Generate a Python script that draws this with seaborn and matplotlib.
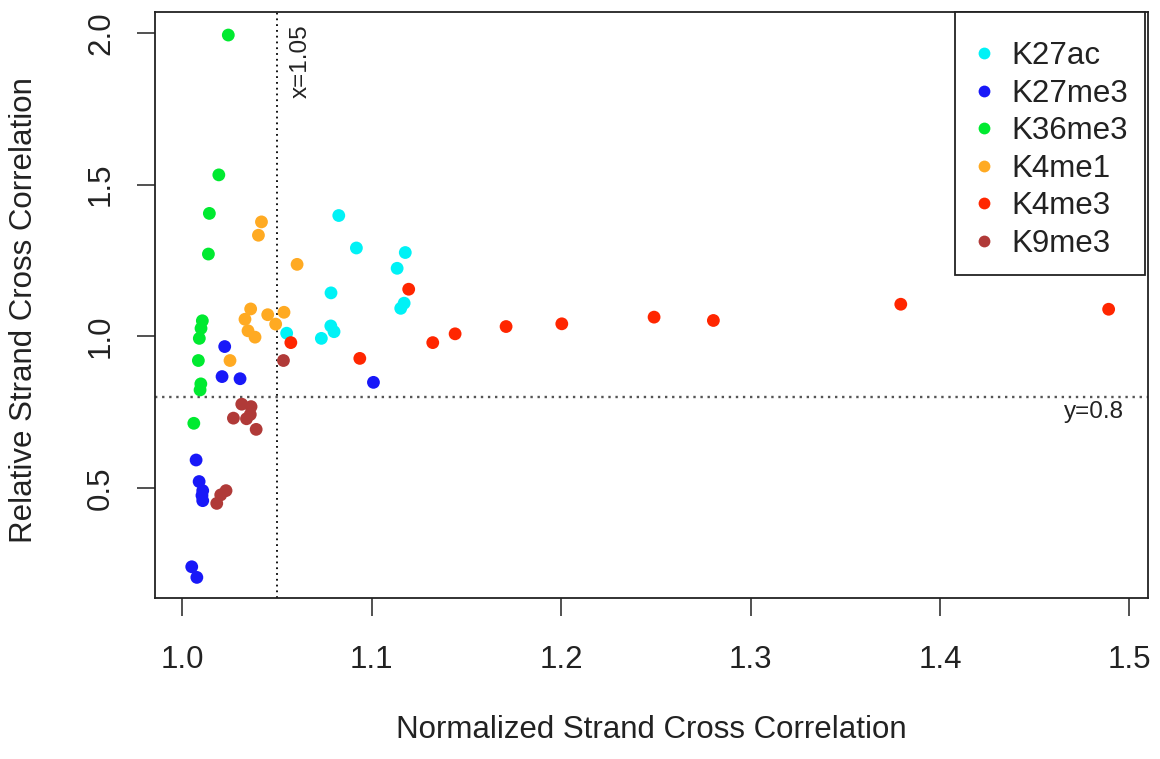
import matplotlib
matplotlib.use("Agg")
import matplotlib.pyplot as plt
import seaborn as sns
import pandas as pd

# Strand cross-correlation QC metrics per histone mark
marks = ["K27ac", "K27me3", "K36me3", "K4me1", "K4me3", "K9me3"]
palette = ["#00F2F6", "#1818F8", "#00EA30", "#FFAA22", "#FF2600", "#B03A38"]

k27ac_nsc = [1.0827, 1.0920, 1.1178, 1.1135, 1.0786, 1.1172, 1.1154, 1.0785, 1.0802, 1.0735, 1.0552]
k27ac_rsc = [1.398, 1.291, 1.276, 1.224, 1.143, 1.109, 1.092, 1.034, 1.015, 0.993, 1.010]

k27me3_nsc = [1.0225, 1.0211, 1.0306, 1.1010, 1.0074, 1.0090, 1.0109, 1.0105, 1.0109, 1.0051, 1.0078]
k27me3_rsc = [0.966, 0.867, 0.860, 0.848, 0.592, 0.521, 0.491, 0.475, 0.458, 0.240, 0.205]

k36me3_nsc = [1.0244, 1.0194, 1.0144, 1.0139, 1.0107, 1.0100, 1.0091, 1.0086, 1.0099, 1.0095, 1.0062]
k36me3_rsc = [1.993, 1.532, 1.405, 1.271, 1.051, 1.026, 0.993, 0.920, 0.843, 0.823, 0.713]

k4me1_nsc = [1.0419, 1.0403, 1.0607, 1.0362, 1.0332, 1.0452, 1.0538, 1.0494, 1.0348, 1.0385, 1.0253]
k4me1_rsc = [1.377, 1.333, 1.237, 1.090, 1.056, 1.071, 1.079, 1.040, 1.018, 0.997, 0.920]

k4me3_nsc = [1.1196, 1.0574, 1.0938, 1.1323, 1.1441, 1.1710, 1.2004, 1.2491, 1.2804, 1.3793, 1.4890]
k4me3_rsc = [1.155, 0.979, 0.927, 0.979, 1.008, 1.032, 1.041, 1.063, 1.052, 1.1055, 1.089]

k9me3_nsc = [1.0535, 1.0315, 1.0364, 1.0340, 1.0360, 1.0271, 1.0391, 1.0232, 1.0204, 1.0183]
k9me3_rsc = [0.920, 0.776, 0.768, 0.728, 0.742, 0.730, 0.693, 0.491, 0.477, 0.449]

nsc_cutoff = 1.05
rsc_cutoff = 0.8

xticks = [1.0, 1.1, 1.2, 1.3, 1.4, 1.5]
yticks = [0.5, 1.0, 1.5, 2.0]

frames = []
for mark, xs, ys in zip(
    marks,
    [k27ac_nsc, k27me3_nsc, k36me3_nsc, k4me1_nsc, k4me3_nsc, k9me3_nsc],
    [k27ac_rsc, k27me3_rsc, k36me3_rsc, k4me1_rsc, k4me3_rsc, k9me3_rsc],
):
    frames.append(pd.DataFrame({"NSC": xs, "RSC": ys, "mark": mark}))
df = pd.concat(frames, ignore_index=True)

sns.set_theme(style="white")
plt.rcParams["font.family"] = ["Liberation Sans", "DejaVu Sans"]

FS = 22.5
INK = "#222222"

fig = plt.figure(figsize=(11.6, 7.59), dpi=100)
ax = fig.add_axes([0.1336, 0.2121, 0.8561, 0.7721])

sns.scatterplot(
    data=df, x="NSC", y="RSC", hue="mark", hue_order=marks,
    palette=palette, s=85, linewidth=0, ax=ax, legend=True, zorder=3,
)

ax.axvline(nsc_cutoff, color="black", linestyle=(0, (1, 2.2)), linewidth=1.3, zorder=2)
ax.axhline(rsc_cutoff, color="#555555", linestyle=(0, (1, 2.0)), linewidth=1.7, zorder=2)
ax.text(nsc_cutoff + 0.0066, 2.029, f"x={nsc_cutoff}", rotation=90, ha="left", va="top",
        fontsize=17.5, color=INK)
ax.text(1.497, rsc_cutoff - 0.015, f"y={rsc_cutoff}", ha="right", va="top",
        fontsize=17.5, color=INK)

ax.set_xlim(0.9857, 1.5098)
ax.set_ylim(0.137, 2.069)
ax.set_xticks(xticks)
ax.set_xticklabels([f"{t:.1f}" for t in xticks])
ax.set_yticks(yticks)
ax.set_yticklabels([f"{t:.1f}" for t in yticks], rotation=90, va="center")
ax.tick_params(axis="both", direction="out", length=13, width=1.1, color=INK,
               labelsize=FS, labelcolor=INK, bottom=True, left=True)
ax.tick_params(axis="x", pad=21)
ax.tick_params(axis="y", pad=15)

for sp in ax.spines.values():
    sp.set_color(INK)
    sp.set_linewidth(1.3)

ax.set_xlabel("Normalized Strand Cross Correlation", fontsize=FS, color=INK)
ax.set_ylabel("Relative Strand Cross Correlation", fontsize=FS, color=INK)
ax.xaxis.set_label_coords(0.5, -0.2253)
ax.yaxis.set_label_coords(-0.132, 0.492)
ax.xaxis.label.set_va("center")
ax.yaxis.label.set_va("center")

handles, labels = ax.get_legend_handles_labels()
for h in handles:
    h.set_markersize(8.5)
    h.set_markeredgewidth(0)
leg = ax.legend(
    handles, labels, loc="upper right", bbox_to_anchor=(0.997, 1.0),
    borderaxespad=0, fontsize=FS, frameon=True, fancybox=False,
    edgecolor=INK, framealpha=1, labelspacing=0.24, borderpad=0.53,
    handlelength=0.85, handletextpad=0.45, title=" ", title_fontsize=4,
)
leg.get_frame().set_linewidth(1.3)
for t in leg.get_texts():
    t.set_color(INK)

fig.savefig("out.png", dpi=100)
